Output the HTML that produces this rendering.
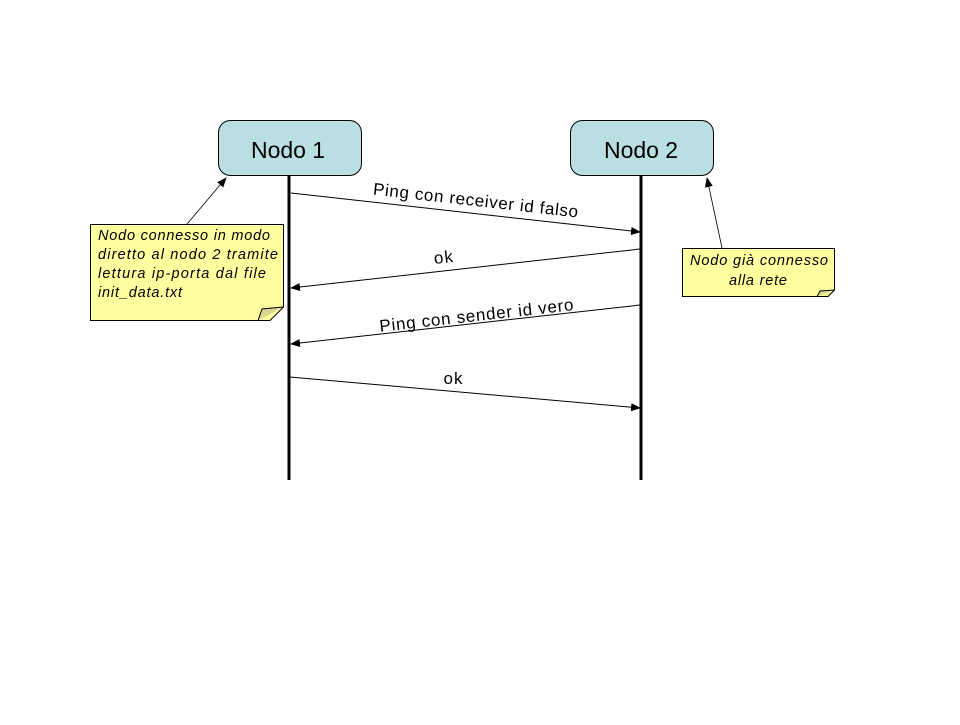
<!DOCTYPE html>
<html><head><style>
body{margin:0;background:#fff;}
</style></head><body>
<svg width="960" height="720" xmlns="http://www.w3.org/2000/svg" font-family="Liberation Sans, sans-serif">
<defs>
<marker id="a" markerWidth="10" markerHeight="8" refX="9" refY="4" orient="auto" markerUnits="userSpaceOnUse">
<path d="M0,0 L10,4 L0,8 z" fill="#000"/></marker>
</defs>
<rect x="218.5" y="120.5" width="143" height="55" rx="12" fill="#b9dfe3" stroke="#000"/>
<text x="288" y="158" font-size="23" text-anchor="middle" textLength="74">Nodo 1</text>
<rect x="570.5" y="120.5" width="143" height="55" rx="12" fill="#b9dfe3" stroke="#000"/>
<text x="641" y="158" font-size="23" text-anchor="middle" textLength="74">Nodo 2</text>
<line x1="289" y1="176" x2="289" y2="480" stroke="#000" stroke-width="3"/>
<line x1="641" y1="176" x2="641" y2="480" stroke="#000" stroke-width="3"/>

<line x1="291" y1="193" x2="640" y2="232" stroke="#000" marker-end="url(#a)"/>
<text x="475" y="206" font-size="17" text-anchor="middle" textLength="206" transform="rotate(6.4 475 206)">Ping con receiver id falso</text>
<line x1="640" y1="249" x2="291" y2="288" stroke="#000" marker-end="url(#a)"/>
<text x="444" y="263" font-size="17" text-anchor="middle" textLength="19" transform="rotate(-6.4 444 263)">ok</text>
<line x1="640" y1="305" x2="291" y2="344" stroke="#000" marker-end="url(#a)"/>
<text x="477" y="321" font-size="17" text-anchor="middle" textLength="195" transform="rotate(-6.4 477 321)">Ping con sender id vero</text>
<line x1="290" y1="377" x2="640" y2="408" stroke="#000" marker-end="url(#a)"/>
<text x="453" y="384" font-size="17" text-anchor="middle" textLength="19">ok</text>

<path d="M90.5,224.5 H283.5 V307 L270,320.5 H90.5 Z" fill="#ffffa0" stroke="#000"/>
<path d="M258,320.5 L262,309 L283,307" fill="#d8d890" stroke="#000"/>
<text font-size="14.5" font-style="italic"><tspan x="98" y="240" textLength="172">Nodo connesso in modo</tspan><tspan x="98" y="259" textLength="180">diretto al nodo 2 tramite</tspan><tspan x="98" y="278" textLength="168">lettura ip-porta dal file</tspan><tspan x="98" y="297" textLength="84">init_data.txt</tspan></text>
<line x1="187" y1="224" x2="226" y2="178" stroke="#000" stroke-width="0.8" marker-end="url(#a)"/>

<path d="M682.5,248.5 H834.5 V290 L828,296.5 H682.5 Z" fill="#ffffa0" stroke="#000"/>
<path d="M817,296.5 L820,291 L834.5,290" fill="#d8d890" stroke="#000"/>
<text font-size="14.5" font-style="italic" text-anchor="middle"><tspan x="759" y="265" textLength="138">Nodo già connesso</tspan><tspan x="758" y="285" textLength="58">alla rete</tspan></text>
<line x1="722" y1="248" x2="707" y2="178" stroke="#000" stroke-width="0.8" marker-end="url(#a)"/>
</svg>
</body></html>
